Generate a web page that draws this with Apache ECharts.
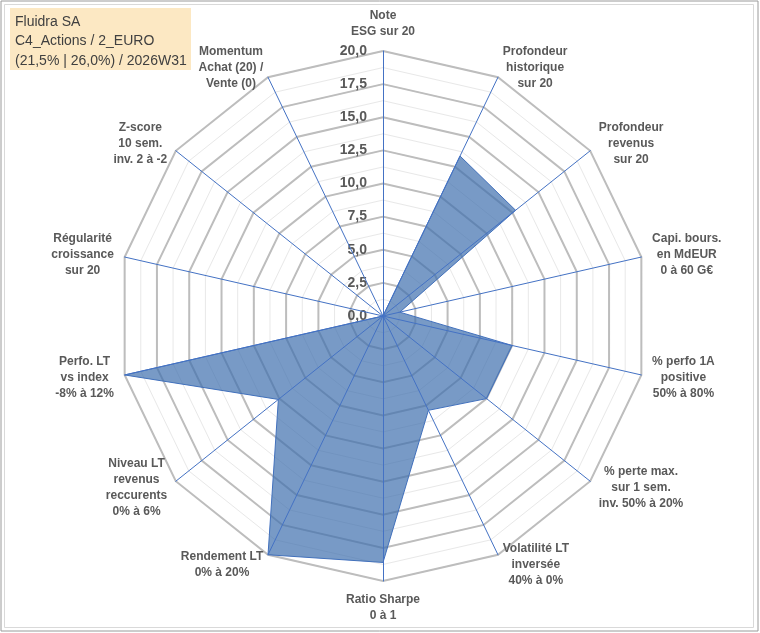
<!DOCTYPE html>
<html><head><meta charset="utf-8">
<script src="https://cdn.jsdelivr.net/npm/echarts@6/dist/echarts.min.js"></script>
<style>html,body{margin:0;padding:0;background:#fff}#c{width:760px;height:633px}</style>
</head><body><div id="c"></div>
<script>
// ---- data (clockwise from the top axis) ----
const categories = [
  'Note\nESG sur 20',
  'Profondeur\nhistorique\nsur 20',
  'Profondeur\nrevenus\nsur 20',
  'Capi. bours.\nen MdEUR\n0 à 60 G€',
  '% perfo 1A\npositive\n50% à 80%',
  '% perte max.\nsur 1 sem.\ninv. 50% à 20%',
  'Volatilité LT\ninversée\n40% à 0%',
  'Ratio Sharpe\n0 à 1',
  'Rendement LT\n0% à 20%',
  'Niveau LT\nrevenus\nreccurents\n0% à 6%',
  'Perfo. LT\nvs index\n-8% à 12%',
  'Régularité\ncroissance\nsur 20',
  'Z-score\n10 sem.\ninv. 2 à -2',
  'Momentum\nAchat (20) /\nVente (0)'
];
const scores = [0, 13.4, 12.8, 1.3, 10, 10, 7.9, 18.6, 20, 10.1, 20, 0, 0, 0];
const axisMin = 0;
const axisMax = 20;
const tickStep = 2.5;
const titleLines = ['Fluidra SA', 'C4_Actions / 2_EURO', '(21,5% | 26,0%) / 2026W31'];

// ---- layout ----
const cx = 383, cy = 316, R = 265;
const FONT = '"Liberation Sans", Arial, sans-serif';
const order = [0].concat(categories.map((_, i) => i).slice(1).reverse());
const indicators = order.map(i => ({ name: categories[i], min: axisMin, max: axisMax }));
const values = order.map(i => scores[i]);

function baseRadar(extra) {
  return Object.assign({
    center: [cx, cy], radius: R, startAngle: 90, shape: 'polygon',
    indicator: indicators,
    axisName: { show: false },
    axisLine: { show: false }, axisTick: { show: false }, axisLabel: { show: false },
    splitLine: { show: false }, splitArea: { show: false }, silent: true
  }, extra);
}

const chart = echarts.init(document.getElementById('c'), null, { renderer: 'canvas' });
chart.setOption({
  backgroundColor: '#ffffff',
  animation: false,
  graphic: [
    { type: 'rect', shape: { x: 1, y: 1, width: 757, height: 630 }, style: { fill: 'none', stroke: '#9a9a9a', lineWidth: 1 }, silent: true, z: 0 },
    { type: 'rect', shape: { x: 4.5, y: 4.5, width: 749, height: 623 }, style: { fill: 'none', stroke: '#d9d9d9', lineWidth: 1 }, silent: true, z: 0 },
    { type: 'rect', shape: { x: 10, y: 8, width: 181, height: 62 }, style: { fill: '#FCE8C3' }, silent: true, z: 1 },
    { type: 'text', left: 15, top: 12, style: { text: titleLines.join('\n'), font: '14px ' + FONT, fill: '#404040', lineHeight: 19.5 }, silent: true, z: 2 }
  ],
  grid: { left: cx, top: cy - R, width: 1, height: R, containLabel: false },
  xAxis: { type: 'value', show: false, min: 0, max: 1 },
  yAxis: {
    type: 'value', min: axisMin, max: axisMax, interval: tickStep,
    axisLine: { show: false }, axisTick: { show: false }, splitLine: { show: false },
    axisLabel: {
      margin: 16, color: '#595959', fontWeight: 'bold', fontSize: 14, fontFamily: FONT,
      formatter: v => v.toFixed(1).replace('.', ',')
    }
  },
  radar: [
    baseRadar({ splitNumber: 16, splitLine: { show: true, lineStyle: { color: '#E8E8E8', width: 1 } } }),
    baseRadar({ splitNumber: 8, splitLine: { show: true, lineStyle: { color: '#BDBDBD', width: 2 } } }),
    baseRadar({
      z: 3,
      splitNumber: 8,
      axisLine: { show: true, lineStyle: { color: '#4472C4', width: 1 } },
      axisNameGap: 11,
      axisName: {
        show: true, color: '#595959',
        formatter: name => name.split('\n').map(s => '{a|' + s + '}').join('\n'),
        rich: { a: { fontFamily: FONT, fontWeight: 'bold', fontSize: 12, lineHeight: 16, color: '#595959', align: 'center' } }
      }
    })
  ],
  series: [{
    type: 'radar', radarIndex: 1, symbol: 'none', silent: true,
    lineStyle: { color: '#4472C4', width: 1 },
    areaStyle: { color: '#3F6FAE', opacity: 0.7 },
    data: [{ value: values }]
  }]
});
</script></body></html>
